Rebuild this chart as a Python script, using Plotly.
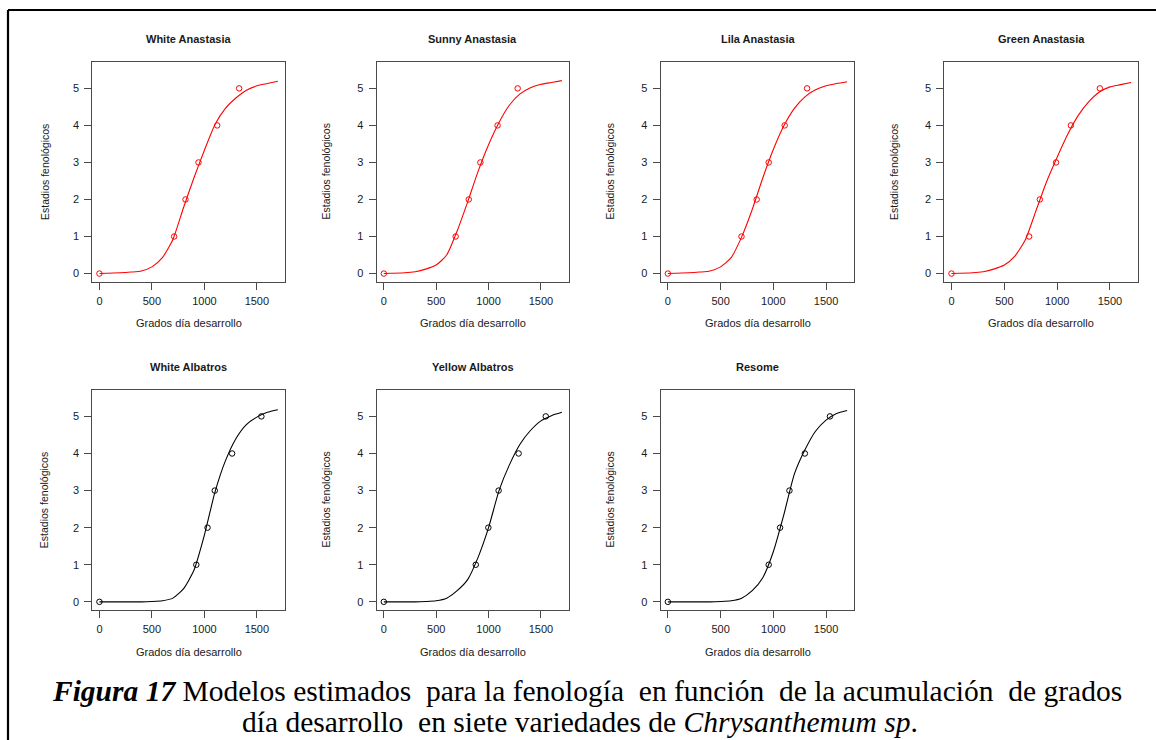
import plotly.graph_objects as go

# ---------------- data ----------------
titles = ["White Anastasia", "Sunny Anastasia", "Lila Anastasia", "Green Anastasia",
          "White Albatros", "Yellow Albatros", "Resome"]
stages = [0, 1, 2, 3, 4, 5]

gdd_white_anastasia = [0, 712, 820, 944, 1122, 1331]
gdd_sunny_anastasia = [0, 686, 811, 922, 1086, 1278]
gdd_lila_anastasia = [0, 698, 842, 956, 1108, 1320]
gdd_green_anastasia = [0, 735, 836, 990, 1130, 1404]
gdd_white_albatros = [0, 923, 1030, 1099, 1264, 1543]
gdd_yellow_albatros = [0, 878, 998, 1096, 1287, 1546]
gdd_resome = [0, 956, 1064, 1153, 1299, 1537]

curve_x = [0, 200, 300, 400, 500, 600, 700, 800, 900, 1000, 1100, 1200, 1300, 1400, 1500, 1600, 1700]
fit_white_anastasia = [0, 0.02, 0.04, 0.07, 0.18, 0.43, 0.92, 1.77, 2.58, 3.33, 4.02, 4.46, 4.74, 4.95, 5.07, 5.13, 5.19]
fit_sunny_anastasia = [0, 0.02, 0.05, 0.12, 0.23, 0.50, 1.15, 1.93, 2.76, 3.48, 4.08, 4.55, 4.85, 5.02, 5.11, 5.16, 5.21]
fit_lila_anastasia = [0, 0.02, 0.04, 0.07, 0.18, 0.43, 0.99, 1.73, 2.58, 3.35, 3.99, 4.46, 4.77, 4.96, 5.07, 5.13, 5.18]
fit_green_anastasia = [0, 0.02, 0.05, 0.12, 0.23, 0.47, 0.92, 1.70, 2.48, 3.14, 3.76, 4.27, 4.64, 4.90, 5.04, 5.10, 5.16]
fit_white_albatros = [0, 0, 0, 0, 0.01, 0.03, 0.10, 0.35, 0.85, 1.80, 2.95, 3.80, 4.40, 4.78, 4.98, 5.11, 5.18]
fit_yellow_albatros = [0, 0, 0, 0.01, 0.03, 0.10, 0.30, 0.60, 1.20, 2.00, 3.00, 3.70, 4.25, 4.62, 4.88, 5.02, 5.11]
fit_resome = [0, 0, 0, 0, 0.01, 0.03, 0.10, 0.30, 0.65, 1.35, 2.35, 3.45, 4.10, 4.60, 4.90, 5.08, 5.16]

point_sets = [gdd_white_anastasia, gdd_sunny_anastasia, gdd_lila_anastasia, gdd_green_anastasia,
              gdd_white_albatros, gdd_yellow_albatros, gdd_resome]
fit_sets = [fit_white_anastasia, fit_sunny_anastasia, fit_lila_anastasia, fit_green_anastasia,
            fit_white_albatros, fit_yellow_albatros, fit_resome]
colors = ["#ff0000"] * 4 + ["#000000"] * 3

x_ticks = [0, 500, 1000, 1500]
y_ticks = [0, 1, 2, 3, 4, 5]
x_title = "Grados día desarrollo"
y_title = "Estadios fenológicos"

# ---------------- layout geometry (pixels) ----------------
W, H = 1156, 740
cols = [(92.3, 285.0), (376.7, 569.0), (660.7, 854.3), (944.3, 1138.3)]
rows = [(61.7, 281.7), (389.7, 610.0)]
ylab_off = [48, 51, 51, 51]


def px(x):
    return x / W


def py(y):
    return 1 - y / H


fig = go.Figure()
annotations = []
font_family = "Liberation Sans, Arial, sans-serif"

for i, (title, gx, fy, col) in enumerate(zip(titles, point_sets, fit_sets, colors)):
    r, c = divmod(i, 4)
    n = "" if i == 0 else str(i + 1)
    xa, ya = "x" + n, "y" + n
    fig.add_trace(go.Scatter(x=curve_x, y=fy, mode="lines", xaxis=xa, yaxis=ya,
                             line=dict(color=col, width=1.1, shape="spline", smoothing=0.6),
                             showlegend=False, hoverinfo="skip"))
    fig.add_trace(go.Scatter(x=gx, y=stages, mode="markers", xaxis=xa, yaxis=ya,
                             marker=dict(symbol="circle-open", size=5.5, color=col, line=dict(width=1)),
                             showlegend=False))
    l, rr = cols[c]
    t, b = rows[r]
    axis_common = dict(showline=True, mirror=True, linecolor="#4a4a4a", linewidth=1.2,
                       ticks="outside", ticklen=7, tickwidth=1, tickcolor="#4a4a4a",
                       showgrid=False, zeroline=False, fixedrange=True,
                       tickfont=dict(family=font_family, size=11, color="#1a1a1a"))
    fig.update_layout(**{
        "xaxis" + n: dict(domain=[px(l), px(rr)], anchor=ya, range=[-68, 1768],
                          tickvals=x_ticks, ticklabelstandoff=2, **axis_common),
        "yaxis" + n: dict(domain=[py(b), py(t)], anchor=xa, range=[-0.22, 5.72],
                          tickvals=y_ticks, ticklabelstandoff=3, **axis_common),
    })
    cx = (l + rr) / 2
    annotations.append(dict(text="<b>" + title + "</b>", x=px(cx), y=py(39 if r == 0 else 367),
                            xref="paper", yref="paper", showarrow=False, xanchor="center", yanchor="middle",
                            font=dict(family=font_family, size=11, color="#1a1a1a")))
    annotations.append(dict(text=x_title, x=px(cx), y=py(b + 41.5),
                            xref="paper", yref="paper", showarrow=False, xanchor="center", yanchor="middle",
                            font=dict(family=font_family, size=11, color="#1a1a1a")))
    annotations.append(dict(text=y_title, x=px(l - ylab_off[c]), y=py((t + b) / 2), textangle=-90,
                            xref="paper", yref="paper", showarrow=False, xanchor="center", yanchor="middle",
                            font=dict(family=font_family, size=10.5, color="#1a1a1a")))

serif = "Liberation Serif, Times New Roman, serif"
sp2 = "\u00a0 "
caption1 = ("<b><i>Figura 17</i></b> Modelos estimados" + sp2 + "para la fenología" + sp2 +
            "en función" + sp2 + "de la acumulación" + sp2 + "de grados")
caption2 = "día desarrollo" + sp2 + "en siete variedades de <i>Chrysanthemum sp</i>."
annotations.append(dict(text=caption1, x=px(587), y=py(691), xref="paper", yref="paper",
                        showarrow=False, xanchor="center", yanchor="middle",
                        font=dict(family=serif, size=29.5, color="#000000")))
annotations.append(dict(text=caption2, x=px(580), y=py(722), xref="paper", yref="paper",
                        showarrow=False, xanchor="center", yanchor="middle",
                        font=dict(family=serif, size=29.5, color="#000000")))

shapes = [
    dict(type="line", xref="paper", yref="paper", x0=px(8), x1=px(1160), y0=py(10), y1=py(10),
         line=dict(color="#000000", width=2.2)),
    dict(type="line", xref="paper", yref="paper", x0=px(8), x1=px(8), y0=py(10), y1=py(745),
         line=dict(color="#000000", width=2.2)),
]

fig.update_layout(width=W, height=H, autosize=False, margin=dict(l=0, r=0, t=0, b=0),
                  paper_bgcolor="white", plot_bgcolor="white",
                  annotations=annotations, shapes=shapes, showlegend=False)

fig.write_html("out.html")
